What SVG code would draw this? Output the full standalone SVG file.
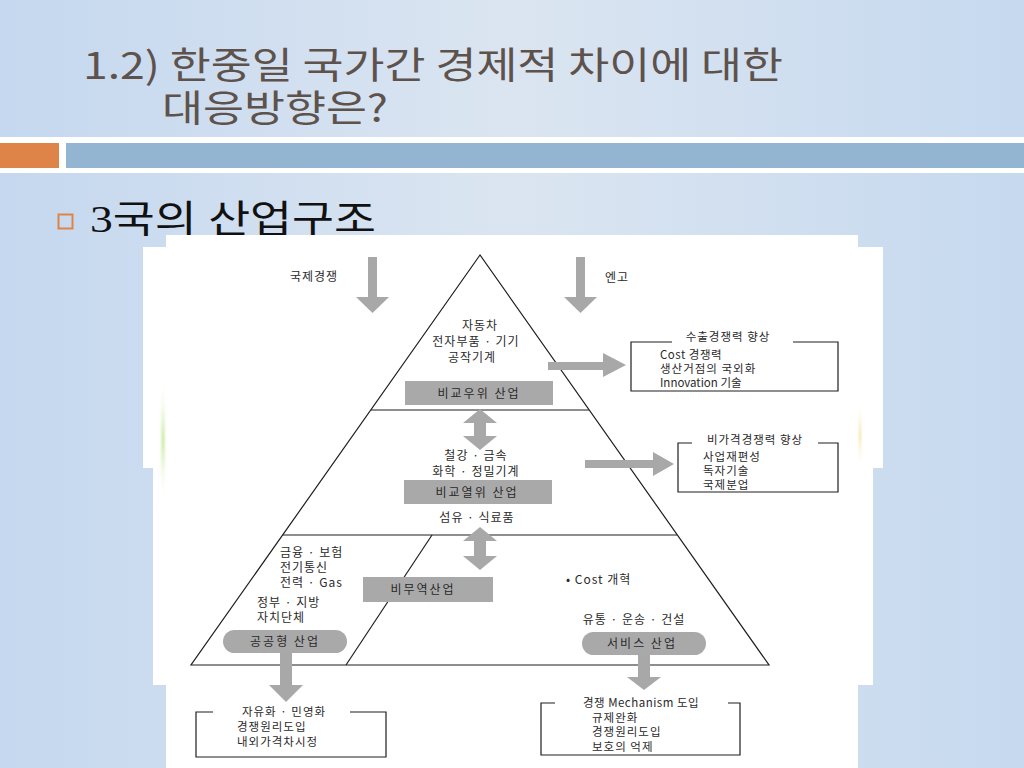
<svg xmlns="http://www.w3.org/2000/svg" width="1024" height="768" viewBox="0 0 1024 768">
<defs>
<linearGradient id="bg" x1="0" y1="0" x2="1" y2="0">
<stop offset="0" stop-color="#c5d8ef"/>
<stop offset="0.5" stop-color="#dbe5f1"/>
<stop offset="1" stop-color="#c6d9ef"/>
</linearGradient>
<radialGradient id="glowG" cx="0.5" cy="0.5" r="0.5">
<stop offset="0" stop-color="#c8e89a" stop-opacity="0.9"/>
<stop offset="1" stop-color="#ffffff" stop-opacity="0"/>
</radialGradient>
<radialGradient id="glowY" cx="0.5" cy="0.5" r="0.5">
<stop offset="0" stop-color="#f6e7b0" stop-opacity="0.9"/>
<stop offset="1" stop-color="#ffffff" stop-opacity="0"/>
</radialGradient>
<style>
.t{font-family:"Noto Sans CJK KR","Liberation Sans",sans-serif;font-size:11.5px;fill:#2a2a2a;letter-spacing:1px}
.m{font-size:12px}
.c{text-anchor:middle}
.ln{stroke:#1e1e1e;stroke-width:1.2;fill:none}
.bx{stroke:#1e1e1e;stroke-width:1.2;fill:none}
.gb{fill:#a9a9a9}
.ar{fill:#a8a8a8}
.hd{font-family:"Noto Sans CJK KR","Liberation Sans",sans-serif;font-size:37px;fill:#5e524c}
</style>
</defs>
<!-- slide background -->
<rect x="0" y="0" width="1024" height="137" fill="url(#bg)"/>
<rect x="0" y="137" width="1024" height="6" fill="#ffffff"/>
<rect x="0" y="143" width="59" height="25" fill="#df8448"/>
<rect x="59" y="143" width="7" height="25" fill="#ffffff"/>
<rect x="66" y="143" width="958" height="25" fill="#93b5d2"/>
<rect x="0" y="168" width="1024" height="5" fill="#ffffff"/>
<rect x="0" y="173" width="1024" height="595" fill="url(#bg)"/>
<g id="title">
<text x="83" y="79" textLength="700" lengthAdjust="spacingAndGlyphs" class="hd">1.2) 한중일 국가간 경제적 차이에 대한</text>
<text x="162" y="122" textLength="226" lengthAdjust="spacingAndGlyphs" class="hd">대응방향은?</text>
</g>
<g id="bullet">
<rect x="58.5" y="214.5" width="14" height="14" fill="none" stroke="#df8448" stroke-width="2"/>
<text x="90" y="232" textLength="286" lengthAdjust="spacingAndGlyphs" style="font-family:'Liberation Serif','Noto Sans CJK KR',serif;font-size:38px;fill:#111">3국의 산업구조</text>
</g>
<!-- white picture area -->
<g id="picture-bg">
<rect x="166" y="235" width="692" height="533" fill="#ffffff"/>
<rect x="143" y="247" width="740" height="221" fill="#ffffff"/>
<rect x="153" y="468" width="720" height="217" fill="#ffffff"/>
<ellipse cx="163" cy="440" rx="5" ry="60" fill="url(#glowG)"/>
<ellipse cx="860" cy="435" rx="4" ry="35" fill="url(#glowY)"/>
</g>
<!-- pyramid -->
<g id="pyramid">
<polygon points="480,255 191,665 769,665" class="ln"/>
<line x1="371" y1="410" x2="589" y2="410" class="ln"/>
<line x1="283" y1="535" x2="677" y2="535" class="ln"/>
<line x1="432" y1="535" x2="346" y2="665" class="ln"/>
</g>
<g id="connectors">
<g id="arrow-intl">
<rect x="368" y="257" width="9" height="40" class="ar"/>
<polygon points="356,297 389,297 372.5,313" class="ar"/>
</g>
<g id="arrow-yen">
<rect x="576" y="257" width="9" height="40" class="ar"/>
<polygon points="564,297 597,297 580.5,313" class="ar"/>
</g>
<g id="arrow-right1">
<rect x="548" y="362" width="56" height="8" class="ar"/>
<polygon points="603,353 603,377 626,365" class="ar"/>
</g>
<g id="arrow-right2">
<rect x="585" y="460" width="69" height="8" class="ar"/>
<polygon points="653,452 653,476 674,464" class="ar"/>
</g>
<g id="darrow1">
<polygon points="480,409 497,423 486,423 486,436 497,436 480,450 463,436 474,436 474,423 463,423" class="ar"/>
</g>
<g id="darrow2">
<polygon points="480,527 497,541 486,541 486,556 497,556 480,570 463,556 474,556 474,541 463,541" class="ar"/>
</g>
<g id="arrow-public">
<rect x="280" y="653" width="12" height="32" class="ar"/>
<polygon points="269,685 303,685 286,702" class="ar"/>
</g>
<g id="arrow-service">
<rect x="638" y="655" width="12" height="23" class="ar"/>
<polygon points="627,677 661,677 644,690" class="ar"/>
</g>
</g>
<g id="label-intl"><text x="314" y="281" class="t m c">국제경쟁</text></g>
<g id="label-yen"><text x="617" y="282" class="t m c">엔고</text></g>
<g id="tier-top">
<text x="480" y="330" class="t m c">자동차</text>
<text x="476" y="346" class="t m c">전자부품 · 기기</text>
<text x="472" y="362" class="t m c">공작기계</text>
<rect x="405" y="381" width="148" height="24" class="gb"/>
<text x="479" y="398" class="t m c" style="letter-spacing:2px">비교우위 산업</text>
</g>
<g id="tier-mid">
<text x="476" y="460" class="t m c">철강 · 금속</text>
<text x="476" y="476" class="t m c">화학 · 정밀기계</text>
<rect x="404" y="480" width="148" height="24" class="gb"/>
<text x="477" y="497" class="t m c" style="letter-spacing:2px">비교열위 산업</text>
<text x="477" y="522" class="t m c">섬유 · 식료품</text>
</g>
<g id="tier-public">
<text x="280" y="557" class="t m">금융 · 보험</text>
<text x="280" y="572" class="t m">전기통신</text>
<text x="280" y="587" class="t m">전력 · Gas</text>
<text x="257" y="607" class="t m">정부 · 지방</text>
<text x="257" y="622" class="t m">자치단체</text>
<rect x="223" y="630" width="124" height="23" rx="11.5" class="gb"/>
<text x="285" y="646" class="t m c" style="letter-spacing:2px">공공형 산업</text>
</g>
<g id="nontrade">
<rect x="363" y="577" width="130" height="25" class="gb"/>
<text x="423" y="594" class="t m c" style="letter-spacing:2px">비무역산업</text>
</g>
<g id="tier-service">
<text x="566" y="584" class="t m">• Cost 개혁</text>
<text x="634" y="624" class="t m c">유통 · 운송 · 건설</text>
<rect x="582" y="632" width="124" height="23" rx="11.5" class="gb"/>
<text x="642" y="648" class="t m c" style="letter-spacing:2px">서비스 산업</text>
</g>
<g id="box-export">
<polyline points="672,342 631,342 631,391 838,391 838,342 793,342" class="bx"/>
<text x="728" y="341" class="t c">수출경쟁력 향상</text>
<text x="660" y="359" class="t" style="letter-spacing:0.5px">Cost 경쟁력</text>
<text x="660" y="373" class="t">생산거점의 국외화</text>
<text x="660" y="387" class="t" style="letter-spacing:0">Innovation 기술</text>
</g>
<g id="box-nonprice">
<polyline points="692,443 678,443 678,492 838,492 838,443 818,443" class="bx"/>
<text x="755" y="444" class="t c">비가격경쟁력 향상</text>
<text x="703" y="461" class="t">사업재편성</text>
<text x="703" y="475" class="t">독자기술</text>
<text x="703" y="489" class="t">국제분업</text>
</g>
<g id="box-liberal">
<polyline points="213,712 196,712 196,757 386,757 386,712 350,712" class="bx"/>
<text x="284" y="716" class="t c">자유화 · 민영화</text>
<text x="237" y="731" class="t">경쟁원리도입</text>
<text x="237" y="746" class="t">내외가격차시정</text>
</g>
<g id="box-mechanism">
<polyline points="555,703 541,703 541,755 740,755 740,703 728,703" class="bx"/>
<text x="641" y="707" class="t c" style="letter-spacing:0.5px">경쟁 Mechanism 도입</text>
<text x="592" y="722" class="t">규제완화</text>
<text x="592" y="736" class="t">경쟁원리도입</text>
<text x="592" y="751" class="t">보호의 억제</text>
</g>
</svg>
